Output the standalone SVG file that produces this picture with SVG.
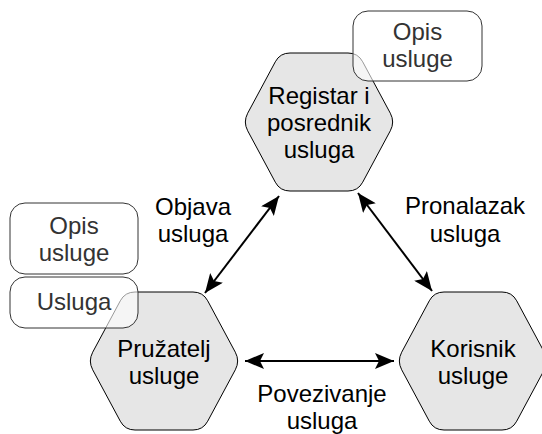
<svg xmlns="http://www.w3.org/2000/svg" width="542" height="434" viewBox="0 0 542 434">
<style>
.hex{fill:#e6e6e6;stroke:#000;stroke-width:1}
.box{fill:#fff;fill-opacity:0.6;stroke:#333;stroke-width:1}
text{font-family:"Liberation Sans",Arial,sans-serif;font-size:24px;text-anchor:middle}
.nt{fill:#000}
.bt{fill:#333}
.lbl{fill:#000}
.conn{stroke:#000;stroke-width:2;fill:none;marker-start:url(#ah);marker-end:url(#ah)}
</style>
<defs>
<path id="hexp" d="M47,0 L105,0 Q115,0 119.7,8.8 L147.3,60.2 Q152,69 147.3,77.8 L119.7,129.2 Q115,138 105,138 L47,138 Q37,138 32.3,129.2 L4.7,77.8 Q0,69 4.7,60.2 L32.3,8.8 Q37,0 47,0 Z"/>
<marker id="ah" markerUnits="userSpaceOnUse" markerWidth="20" markerHeight="16" viewBox="0 0 20 16" refX="19" refY="8" orient="auto-start-reverse">
<path d="M0,0 L19,8 L0,16 L4,8 Z" fill="#000"/>
</marker>
</defs>
<g id="n-registar">
<use href="#hexp" class="hex" transform="translate(243,53)"/>
<text class="nt" x="319" y="104">Registar i</text>
<text class="nt" x="319" y="131">posrednik</text>
<text class="nt" x="319" y="158">usluga</text>
</g>
<g id="n-pruzatelj">
<use href="#hexp" class="hex" transform="translate(88,292)"/>
<text class="nt" x="164" y="357">Pružatelj</text>
<text class="nt" x="164" y="384">usluge</text>
</g>
<g id="n-korisnik">
<use href="#hexp" class="hex" transform="translate(397,292)"/>
<text class="nt" x="473" y="357">Korisnik</text>
<text class="nt" x="473" y="384">usluge</text>
</g>
<g id="n-opis-top">
<rect class="box" x="353" y="11" width="129" height="70" rx="15"/>
<text class="bt" x="417.5" y="40">Opis</text>
<text class="bt" x="417.5" y="67">usluge</text>
</g>
<g id="n-opis-left">
<rect class="box" x="10" y="203" width="128" height="71" rx="15"/>
<text class="bt" x="74" y="234">Opis</text>
<text class="bt" x="74" y="261">usluge</text>
</g>
<g id="n-usluga">
<rect class="box" x="10" y="277" width="128" height="51" rx="15"/>
<text class="bt" x="74" y="310">Usluga</text>
</g>
<g id="connectors">
<line class="conn" x1="205" y1="293" x2="279" y2="196"/>
<line class="conn" x1="358" y1="193" x2="432" y2="291"/>
<line class="conn" x1="245" y1="361" x2="394" y2="361"/>
</g>
<g id="labels">
<text class="lbl" x="193" y="215">Objava</text>
<text class="lbl" x="193" y="242">usluga</text>
<text class="lbl" x="465" y="214">Pronalazak</text>
<text class="lbl" x="465" y="242">usluga</text>
<text class="lbl" x="322" y="402">Povezivanje</text>
<text class="lbl" x="322" y="429">usluga</text>
</g>
</svg>
